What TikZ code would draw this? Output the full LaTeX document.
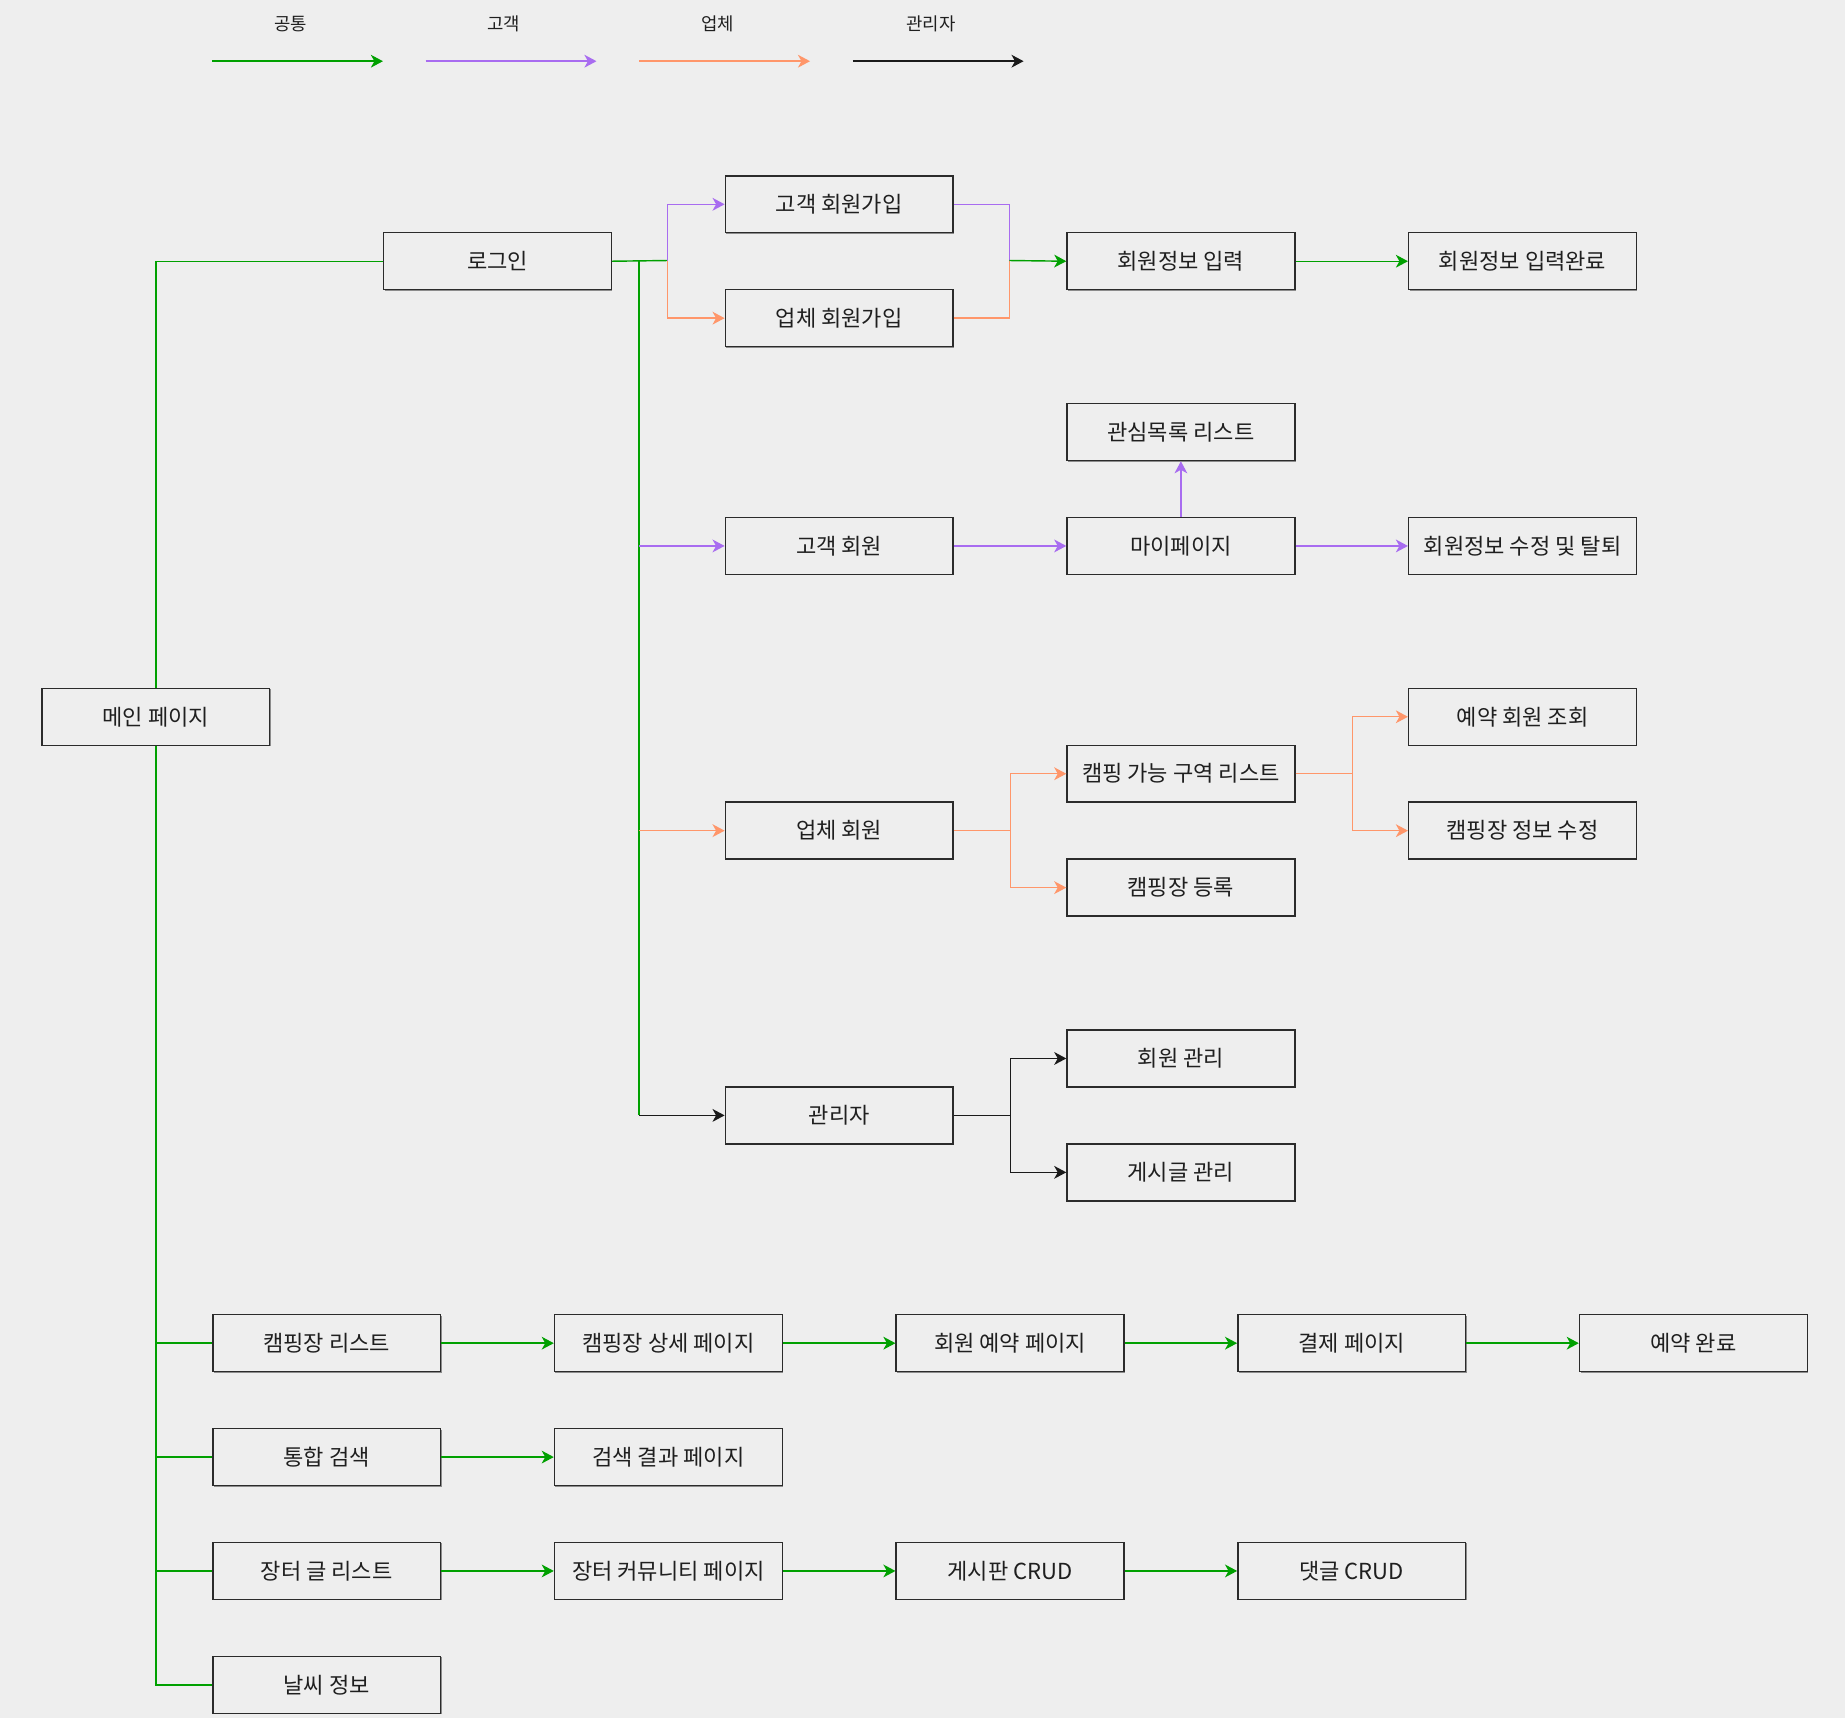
\documentclass[tikz,border=0pt]{standalone}
\usepackage{fontspec}
\newfontfamily\kr{Noto Sans CJK KR}
\usetikzlibrary{arrows.meta,shadows}
\definecolor{bg}{HTML}{EEEEEE}
\definecolor{cgreen}{HTML}{00A000}
\definecolor{cpurple}{HTML}{A86CF0}
\definecolor{corange}{HTML}{FF966A}
\definecolor{cblack}{HTML}{1A1A1A}
\definecolor{cedge}{HTML}{2B2B2B}
\begin{document}
\begin{tikzpicture}[x=1pt,y=-1pt,
  box/.style={draw=cedge,line width=1pt,fill=bg,minimum width=160pt,minimum height=40pt,
    anchor=north west,inner sep=0pt,font=\kr\fontsize{15.5}{18}\selectfont,text=black!88,
    general shadow={fill=black!45,shadow xshift=0.7pt,shadow yshift=-0.7pt}},
  legendtext/.style={font=\kr\fontsize{12.5}{15}\selectfont,text=black!88,inner sep=0pt},
  tip/.style={-{Stealth[length=8.5pt,width=9pt,inset=2.5pt]}},
  ln/.style={line width=1pt},
  common/.style={ln,draw=cgreen},
  client/.style={ln,draw=cpurple},
  vendor/.style={ln,draw=corange},
  admin/.style={ln,draw=cblack}]
  % page frame
  \fill[bg] (-29,-483) rectangle (1267,724);
  \useasboundingbox (-29,-483) rectangle (1267,724);

  % legend
  \node[legendtext] (lg1) at (175,-466) {공통};
  \node[legendtext] (lg2) at (325,-466) {고객};
  \node[legendtext] (lg3) at (475,-466) {업체};
  \node[legendtext] (lg4) at (625,-466) {관리자};
  \coordinate (la1) at (120,-440); \coordinate (lb1) at (240,-440);
  \coordinate (la2) at (270,-440); \coordinate (lb2) at (390,-440);
  \coordinate (la3) at (420,-440); \coordinate (lb3) at (540,-440);
  \coordinate (la4) at (570,-440); \coordinate (lb4) at (690,-440);
  \draw[common,tip,cgreen] (la1) -- (lb1);
  \draw[client,tip,cpurple] (la2) -- (lb2);
  \draw[vendor,tip,corange] (la3) -- (lb3);
  \draw[admin,tip,cblack] (la4) -- (lb4);

  % boxes
  \node[box] (main) at (0,0) {메인 페이지};
  \node[box] (login) at (240,-320) {로그인};
  \node[box] (cjoin) at (480,-360) {고객 회원가입};
  \node[box] (vjoin) at (480,-280) {업체 회원가입};
  \node[box] (info) at (720,-320) {회원정보 입력};
  \node[box] (infodone) at (960,-320) {회원정보 입력완료};
  \node[box] (wish) at (720,-200) {관심목록 리스트};
  \node[box] (client) at (480,-120) {고객 회원};
  \node[box] (mypage) at (720,-120) {마이페이지};
  \node[box] (edit) at (960,-120) {회원정보 수정 및 탈퇴};
  \node[box] (resv) at (960,0) {예약 회원 조회};
  \node[box] (zones) at (720,40) {캠핑 가능 구역 리스트};
  \node[box] (vendor) at (480,80) {업체 회원};
  \node[box] (siteedit) at (960,80) {캠핑장 정보 수정};
  \node[box] (sitereg) at (720,120) {캠핑장 등록};
  \node[box] (members) at (720,240) {회원 관리};
  \node[box] (admin) at (480,280) {관리자};
  \node[box] (posts) at (720,320) {게시글 관리};
  \node[box] (list) at (120,440) {캠핑장 리스트};
  \node[box] (detail) at (360,440) {캠핑장 상세 페이지};
  \node[box] (book) at (600,440) {회원 예약 페이지};
  \node[box] (pay) at (840,440) {결제 페이지};
  \node[box] (done) at (1080,440) {예약 완료};
  \node[box] (search) at (120,520) {통합 검색};
  \node[box] (result) at (360,520) {검색 결과 페이지};
  \node[box] (market) at (120,600) {장터 글 리스트};
  \node[box] (community) at (360,600) {장터 커뮤니티 페이지};
  \node[box] (board) at (600,600) {게시판 CRUD};
  \node[box] (reply) at (840,600) {댓글 CRUD};
  \node[box] (weather) at (120,680) {날씨 정보};

  % junction points
  \coordinate (trunk) at (420,-300);
  \coordinate (split) at (440,-300);
  \coordinate (merge) at (680,-300);

  % main page to login
  \draw[common] (main.north) |- (login.west);
  % main page to the lower menus
  \draw[common] (main.south) |- (list.west);
  \draw[common] (main.south) |- (search.west);
  \draw[common] (main.south) |- (market.west);
  \draw[common] (main.south) |- (weather.west);

  % login to sign-up choices
  \draw[common] (login.east) -- (split);
  \draw[client,tip] (split) |- (cjoin.west);
  \draw[vendor,tip] (split) |- (vjoin.west);
  \draw[client] (cjoin.east) -| (merge);
  \draw[vendor] (vjoin.east) -| (merge);
  \draw[common,tip] (merge) -- (info.west);
  \draw[common,tip] (info.east) -- (infodone.west);

  % login to member kinds
  \draw[common] (trunk) -- (trunk |- admin.west);
  \draw[client,tip] (trunk |- client.west) -- (client.west);
  \draw[vendor,tip] (trunk |- vendor.west) -- (vendor.west);
  \draw[admin,tip] (trunk |- admin.west) -- (admin.west);

  % customer
  \draw[client,tip] (client.east) -- (mypage.west);
  \draw[client,tip] (mypage.north) -- (wish.south);
  \draw[client,tip] (mypage.east) -- (edit.west);

  % vendor
  \draw[vendor,tip] (vendor.east) -- ++(40,0) |- (zones.west);
  \draw[vendor,tip] (vendor.east) -- ++(40,0) |- (sitereg.west);
  \draw[vendor,tip] (zones.east) -- ++(40,0) |- (resv.west);
  \draw[vendor,tip] (zones.east) -- ++(40,0) |- (siteedit.west);

  % administrator
  \draw[admin,tip] (admin.east) -- ++(40,0) |- (members.west);
  \draw[admin,tip] (admin.east) -- ++(40,0) |- (posts.west);

  % common flows
  \draw[common,tip] (list.east) -- (detail.west);
  \draw[common,tip] (detail.east) -- (book.west);
  \draw[common,tip] (book.east) -- (pay.west);
  \draw[common,tip] (pay.east) -- (done.west);
  \draw[common,tip] (search.east) -- (result.west);
  \draw[common,tip] (market.east) -- (community.west);
  \draw[common,tip] (community.east) -- (board.west);
  \draw[common,tip] (board.east) -- (reply.west);
\end{tikzpicture}
\end{document}
